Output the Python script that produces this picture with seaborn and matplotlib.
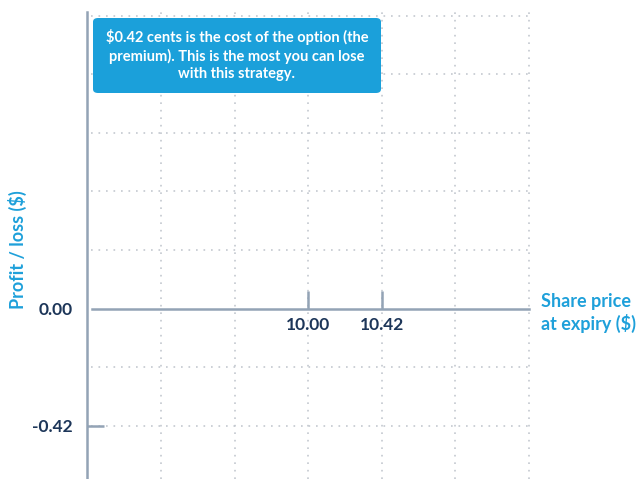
import matplotlib
matplotlib.use("Agg")
import matplotlib.pyplot as plt
from matplotlib.patches import FancyBboxPatch
import seaborn as sns

# option payoff frame: only the axes and the premium note
strike = 10.00
premium = 0.42
x_ticks = [10.00, 10.42]
x_tick_labels = ["10.00", "10.42"]
y_ticks = [-0.42, 0.00]
y_tick_labels = ["-0.42", "0.00"]
grid_x = [9.16, 9.58, 10.00, 10.42, 10.84, 11.26]
grid_y = [-0.42, -0.21, 0.21, 0.42, 0.63, 0.84, 1.05]
note = ("$0.42 cents is the cost of the option (the\n"
        "premium). This is the most you can lose\n"
        "with this strategy.")

sns.set_theme(style="white")
plt.rcParams["font.family"] = ["Lato", "DejaVu Sans"]

AXIS = "#93a3b5"
NAVY = "#1d3659"
BLUE = "#1ea0da"
GRID = "#c3c8cf"

fig = plt.figure(figsize=(6.37, 4.79), dpi=100)
ax = fig.add_axes([87 / 637, 0, 445 / 637, 467 / 479])
ax.set_xlim(8.734, 11.28)
ax.set_ylim(-0.61, 1.063)

for gx in grid_x:
    ax.axvline(gx, color=GRID, lw=1.2, ls=(0, (1, 3.5)), zorder=0)
for gy in grid_y:
    ax.axhline(gy, xmin=0.01, xmax=0.992, color=GRID, lw=1.2, ls=(0, (1, 3.5)), zorder=0)

sns.despine(ax=ax, top=True, right=True)
ax.spines["left"].set_color(AXIS)
ax.spines["left"].set_linewidth(1.8)
ax.spines["bottom"].set_position(("data", 0))
ax.spines["bottom"].set_color(AXIS)
ax.spines["bottom"].set_linewidth(1.8)
ax.spines["bottom"].set_bounds(8.76, 11.26)

ax.set_xticks(x_ticks)
ax.set_xticklabels(x_tick_labels)
ax.set_yticks(y_ticks)
ax.set_yticklabels(y_tick_labels)
ax.tick_params(axis="x", bottom=True, direction="in", length=13, width=1.8,
               color=AXIS, pad=6, labelsize=12.5, labelcolor=NAVY)
ax.tick_params(axis="y", left=True, direction="in", length=12, width=1.8,
               color=AXIS, pad=10, labelsize=12.5, labelcolor=NAVY)
# zero already has the horizontal axis line, no extra stub
ax.yaxis.get_major_ticks()[1].tick1line.set_visible(False)
for lab in ax.get_xticklabels() + ax.get_yticklabels():
    lab.set_fontweight("bold")

fig.text(17 / 637, 1 - 250 / 479, "Profit / loss ($)", rotation=90,
         ha="center", va="center", color=BLUE, fontsize=13, fontweight="bold")
fig.text(541 / 637, 1 - 313 / 479, "Share price\nat expiry ($)", ha="left",
         va="center", color=BLUE, fontsize=13, fontweight="bold", linespacing=1.3)

box = FancyBboxPatch((93 / 637, 1 - 93 / 479), 288 / 637, 75 / 479,
                     boxstyle="round,pad=0,rounding_size=0.008",
                     transform=fig.transFigure, facecolor="#1ba0da",
                     edgecolor="none", zorder=5)
fig.patches.append(box)
fig.text(237 / 637, 1 - 55 / 479, note, ha="center", va="center", color="white",
         fontsize=10.5, fontweight="bold", linespacing=1.3, zorder=6)

fig.savefig("out.png", dpi=100)
